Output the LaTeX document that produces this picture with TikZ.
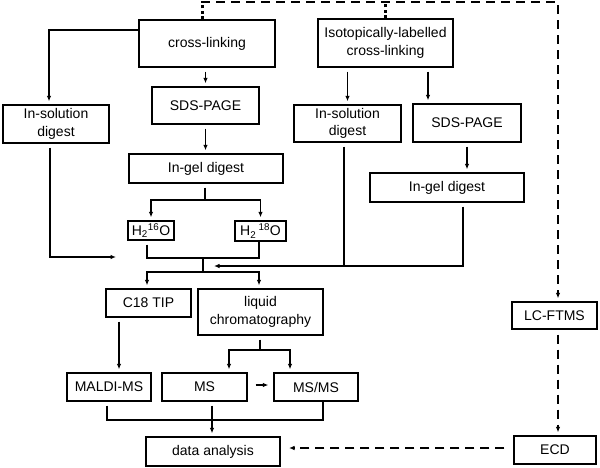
\documentclass[tikz,border=0pt]{standalone}
\usepackage{fontspec}
\setmainfont{Liberation Sans}
\usetikzlibrary{arrows.meta}
\begin{document}
\begin{tikzpicture}[x=1pt,y=-1pt,
  box/.style={draw, line width=1.3pt, inner sep=0pt, align=center, font=\fontsize{14}{17.5}\selectfont},
  ln/.style={line width=1.3pt},
  arr/.style={ln, -{Latex[length=5.5pt,width=4.5pt]}, shorten >=3pt},
  arrf/.style={ln, -{Latex[length=5.5pt,width=4.5pt]}},
  fromb/.style={shorten <=4pt},
  dsh/.style={line width=1.8pt, dash pattern=on 9pt off 6pt},
  dthk/.style={line width=3pt, dash pattern=on 3pt off 2.5pt}]
\useasboundingbox (0,0) rectangle (600,467);
% nodes
\node[box, minimum width=136pt, minimum height=47pt] (cl) at (207,43.5) {cross-linking};
\node[box, minimum width=107pt, minimum height=37pt] (sds1) at (205.5,105.5) {SDS-PAGE};
\node[box, minimum width=106pt, minimum height=38pt] (isd1) at (56,124) {In-solution\\digest};
\node[box, minimum width=154pt, minimum height=29pt] (igd1) at (206,168.5) {In-gel digest};
\node[box, minimum width=46pt, minimum height=19pt] (h16) at (151,230.5) {H\textsubscript{2}\textsuperscript{16}O};
\node[box, minimum width=51pt, minimum height=20pt] (h18) at (260.5,231) {H\textsubscript{2}\,\textsuperscript{18}O};
\node[box, minimum width=135pt, minimum height=48pt] (iso) at (385.5,43) {Isotopically-labelled\\cross-linking};
\node[box, minimum width=107pt, minimum height=37pt] (isd2) at (347.5,123.5) {In-solution\\digest};
\node[box, minimum width=108pt, minimum height=38pt] (sds2) at (467,123) {SDS-PAGE};
\node[box, minimum width=154pt, minimum height=29pt] (igd2) at (447,187.5) {In-gel digest};
\node[box, minimum width=85pt, minimum height=27pt] (lcft) at (554.5,315.5) {LC-FTMS};
\node[box, minimum width=82pt, minimum height=28pt] (ecd) at (555,450) {ECD};
\node[box, minimum width=85pt, minimum height=28pt] (c18) at (148.5,303) {C18 TIP};
\node[box, minimum width=125pt, minimum height=46pt] (lc) at (260.5,312) {liquid\\chromatography};
\node[box, minimum width=84pt, minimum height=28pt] (maldi) at (109,387) {MALDI-MS};
\node[box, minimum width=85pt, minimum height=28pt] (ms) at (204.5,387) {MS};
\node[box, minimum width=84pt, minimum height=28pt] (msms) at (316,387) {MS/MS};
\node[box, minimum width=134pt, minimum height=29pt] (da) at (213,451.5) {data analysis};
% coordinates
\coordinate (sp1) at (205,200);
\coordinate (m1) at (203,258);
\coordinate (m2) at (203,272);
\coordinate (in1) at (116,257);
\coordinate (in2) at (214,266);
\coordinate (sp2) at (260,350);
\coordinate (m3) at (212,420);
\coordinate (top1) at (202,2);
\coordinate (top2) at (385,2);
\coordinate (in3) at (289,448);
% left branch
\draw[arr] ([yshift=13.5pt]cl.west) -| ([xshift=-7pt]isd1.north);
\draw[arr,fromb] (cl.south -| sds1.north) -- (sds1.north);
\draw[arr,fromb] (sds1.south) -- (sds1.south |- igd1.north);
\draw[ln,fromb] (igd1.south -| sp1) -- (sp1);
\draw[arr] (sp1) -| (h16.north);
\draw[arr] (sp1) -| (h18.north);
\draw[ln,fromb] ([xshift=-4pt]h16.south) |- (m1) -| ([xshift=-1.5pt]h18.south);
\draw[ln] (m1) -- (m2);
\draw[arr] (m2) -| ([xshift=-1.5pt]c18.north);
\draw[arr] (m2) -| ([xshift=-1.5pt]lc.north);
\draw[arrf,fromb] ([xshift=-6pt]isd1.south) |- (in1);
% right branch
\draw[arr,fromb] (iso.south -| isd2.north) -- (isd2.north);
\draw[arr,fromb] (iso.south -| 428,0) -- (428,0 |- sds2.north);
\draw[arr,fromb] (sds2.south) -- (sds2.south |- igd2.north);
\draw[ln,fromb] ([xshift=-3.5pt]isd2.south) -- ([xshift=-3.5pt]isd2.south |- in2);
\draw[arrf,fromb] ([xshift=16pt]igd2.south) |- (in2);
% dashed
\draw[dthk] (cl.north -| top1) -- (top1);
\draw[dthk] (iso.north -| top2) -- (top2);
\draw[dsh, -{Latex[length=5.5pt,width=4.5pt]}, shorten >=3pt] ([xshift=-0.9pt]top1) -| ([xshift=3.5pt]lcft.north);
\draw[dsh, line width=1.6pt, -{Latex[length=5.5pt,width=4.5pt]}, shorten >=3pt, shorten <=5pt] ([xshift=3.5pt]lcft.south) -- ([xshift=3.5pt]lcft.south |- ecd.north);
\draw[dsh, line width=1.6pt, -{Latex[length=5.5pt,width=4.5pt]}, shorten <=9pt] ([yshift=2pt]ecd.west) -- (in3);
% lower part
\draw[arr,fromb] (c18.south -| 119,0) -- (119,0 |- maldi.north);
\draw[ln,fromb] (lc.south -| sp2) -- (sp2);
\draw[arr] (sp2) -| ([xshift=24.5pt]ms.north);
\draw[arr] (sp2) -| ([xshift=-26pt]msms.north);
\draw[arrf] ([xshift=8pt,yshift=2pt]ms.east) -- ([xshift=-5pt,yshift=2pt]msms.west);
\draw[ln,fromb] ([xshift=-2pt]maldi.south) |- (m3) -| ([xshift=7pt]msms.south);
\draw[arr,fromb] (ms.south -| m3) -- (m3 |- da.north);
\end{tikzpicture}
\end{document}
